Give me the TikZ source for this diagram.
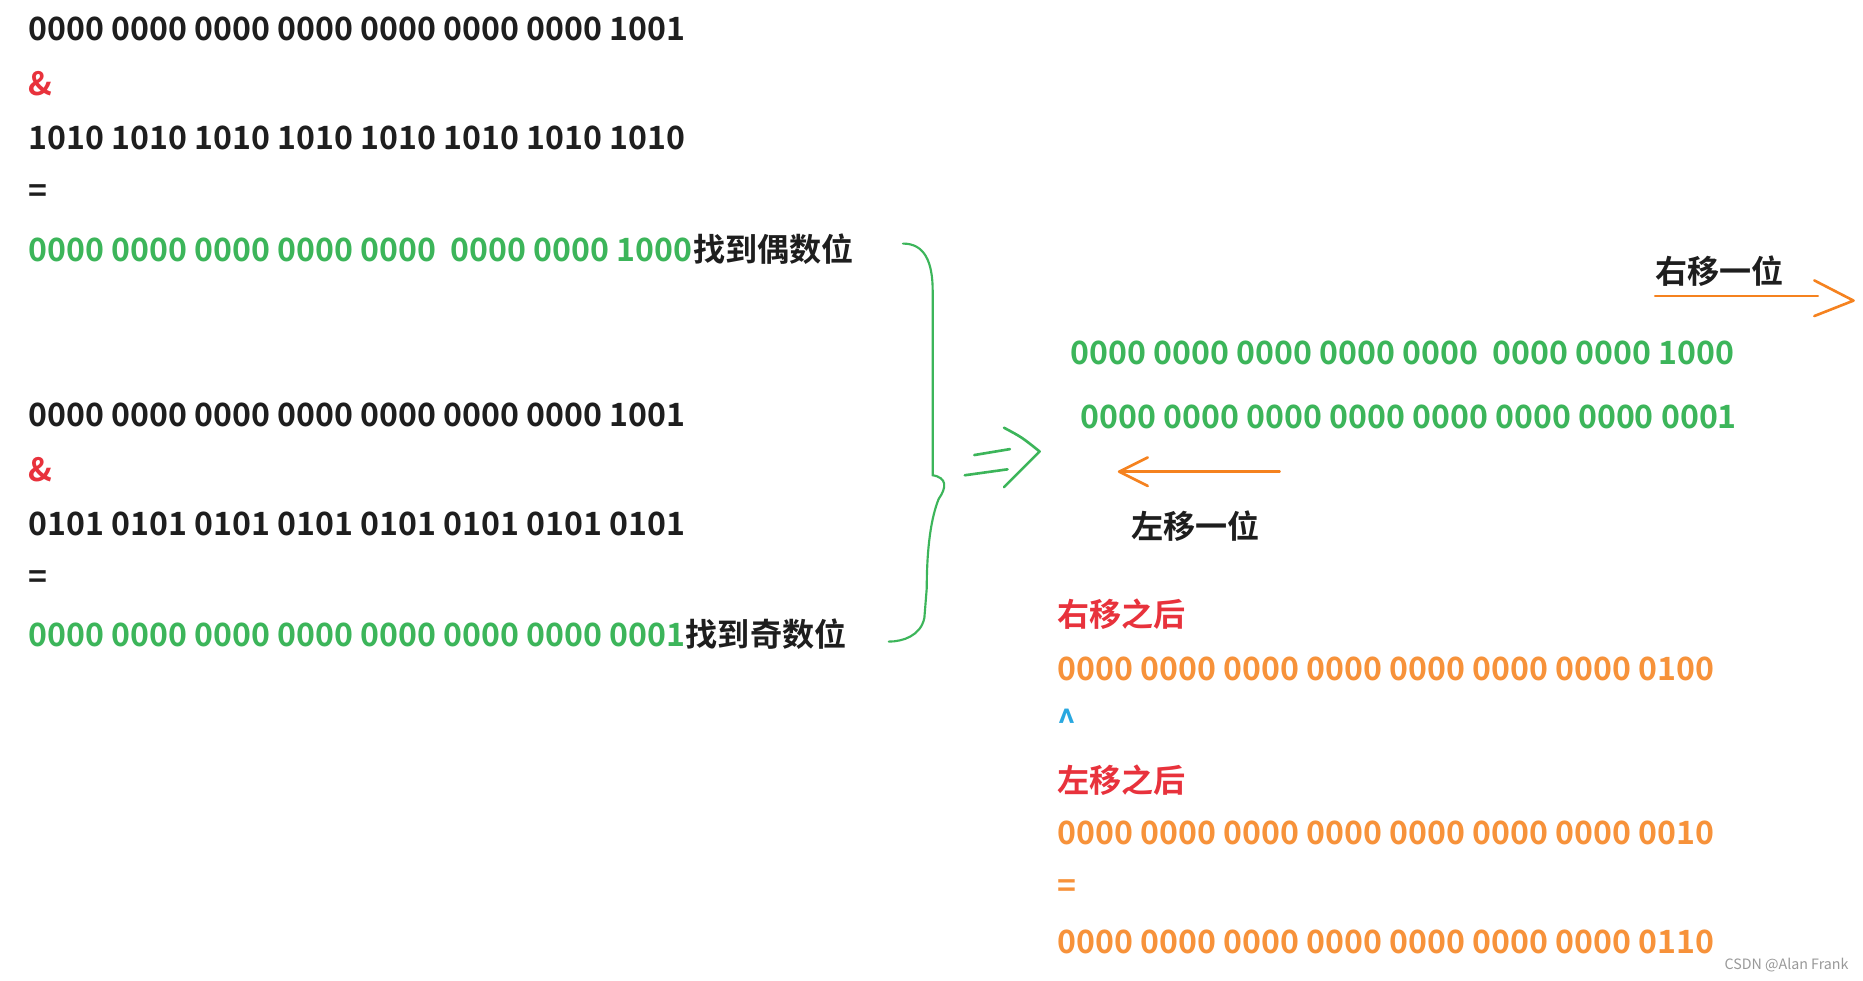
\documentclass[tikz,border=0pt]{standalone}
\usepackage{fontspec}
\setmainfont{Noto Sans CJK SC}[BoldFont={* Bold}]
\definecolor{tblack}{HTML}{1E1E1E}
\definecolor{tred}{HTML}{E8323C}
\definecolor{tgreen}{HTML}{3CB55A}
\definecolor{torange}{HTML}{F7923A}
\definecolor{aorange}{HTML}{F5821F}
\definecolor{tblue}{HTML}{29A8E0}
\begin{document}
\begin{tikzpicture}[x=1pt,y=-1pt,
  t/.style={anchor=west,inner sep=0pt,font=\fontsize{27}{27}\bfseries\selectfont},
  c/.style={anchor=center,inner sep=0pt,font=\fontsize{27}{27}\bfseries\selectfont},
  hand/.style={line width=2.2pt,line cap=round,line join=round}]
\useasboundingbox[fill=white] (0,0) rectangle (1568,825);
\node[t,tblack] (a1) at (24,24) {0000 0000 0000 0000 0000 0000 0000 1001};
\node[t,tred] (a2) at (24,70) {\&};
\node[t,tblack] (a3) at (24,116) {1010 1010 1010 1010 1010 1010 1010 1010};
\node[t,tblack] (a4) at (24,163) {=};
\node[t,tgreen] (a5) at (24,210) {0000 0000 0000 0000 0000\ \ 0000 0000 1000};
\node[t,tblack] (a6) at (a5.east) [anchor=west] {找到偶数位};
\node[t,tblack] (b1) at (24,349) {0000 0000 0000 0000 0000 0000 0000 1001};
\node[t,tred] (b2) at (24,395) {\&};
\node[t,tblack] (b3) at (24,441) {0101 0101 0101 0101 0101 0101 0101 0101};
\node[t,tblack] (b4) at (24,488) {=};
\node[t,tgreen] (b5) at (24,534) {0000 0000 0000 0000 0000 0000 0000 0001};
\node[t,tblack] (b6) at (b5.east) [anchor=west] {找到奇数位};
% brace
\draw[tgreen,line width=1.8pt,line cap=round] (760,205) .. controls (778,205) and (785,220) .. (785,245) -- (785,400) .. controls (797,402) and (797,410) .. (790,420) .. controls (782,440) and (780,470) .. (780,495) -- (778,520) .. controls (775,535) and (760,540) .. (748,540);
% hand arrow
\draw[tgreen,hand] (820,383) -- (850,378);
\draw[tgreen,hand] (812,400) -- (848,395);
\draw[tgreen,hand] (845,360) .. controls (860,368) .. (875,380) .. controls (860,395) .. (845,410);
% right part
\node[c,tblack] (r1) at (1447,228) {右移一位};
\draw[aorange,hand] (1393,249) -- (1530,249);
\draw[aorange,hand] (1527,236) -- (1560,253) -- (1527,266);
\node[t,tgreen] (g1) at (901,297) {0000 0000 0000 0000 0000\ \ 0000 0000 1000};
\node[t,tgreen] (g2) at (909,351) {0000 0000 0000 0000 0000 0000 0000 0001};
\draw[aorange,hand] (1077,397) -- (942,397);
\draw[aorange,hand] (966,385) -- (942,397) -- (966,409);
\node[c,tblack] (l1) at (1006,443) {左移一位};
\node[t,tred] (c1) at (890,517) {右移之后};
\node[t,torange] (c2) at (890,563) {0000 0000 0000 0000 0000 0000 0000 0100};
\node[t,tblue] (c3) at (890,607) {\^{}};
\node[t,tred] (c4) at (890,657) {左移之后};
\node[t,torange] (c5) at (890,701) {0000 0000 0000 0000 0000 0000 0000 0010};
\node[t,torange] (c6) at (890,748) {=};
\node[t,torange] (c7) at (890,793) {0000 0000 0000 0000 0000 0000 0000 0110};
\node[anchor=east,inner sep=0pt,text=gray!80,font=\fontsize{12}{12}\selectfont] (w) at (1556,812) {CSDN @Alan Frank};
\end{tikzpicture}
\end{document}
